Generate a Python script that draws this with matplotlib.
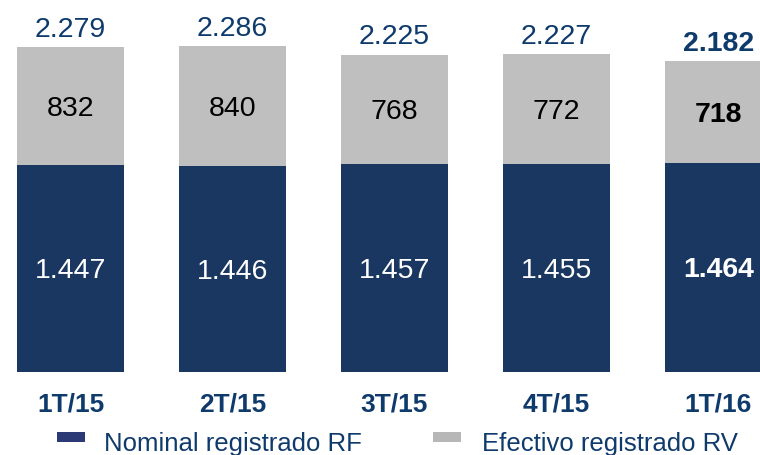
import matplotlib
matplotlib.use("Agg")
import matplotlib.pyplot as plt
import matplotlib.transforms as mtransforms
from matplotlib.patches import Rectangle

plt.rcParams["font.family"] = ["Liberation Sans", "DejaVu Sans"]

# Data
CATEGORIES = ["1T/15", "2T/15", "3T/15", "4T/15", "1T/16"]
RF_NOMINAL = [1447, 1446, 1457, 1455, 1464]
RV_EFECTIVO = [832, 840, 768, 772, 718]
TOTALS = [2279, 2286, 2225, 2227, 2182]
SERIES_NAMES = ["Nominal registrado RF", "Efectivo registrado RV"]


def fmt(v):
    # Spanish thousands separator
    return f"{v:,}".replace(",", ".")


NAVY = "#193760"
GRAY = "#BFBFBF"
TEXT_NAVY = "#0F3A6C"

W, H = 760, 455
fig = plt.figure(figsize=(W / 100, H / 100), dpi=100)
ax = fig.add_axes([0, 83.5 / H, 1, 371.5 / H])
ax.set_axis_off()

x = list(range(len(CATEGORIES)))
bw = 0.665
ax.bar(x, RF_NOMINAL, width=bw, color=NAVY, linewidth=0)
ax.bar(x, RV_EFECTIVO, width=bw, bottom=RF_NOMINAL, color=GRAY, linewidth=0)

ax.set_xlim(-70.5 / 162, (W - 70.5) / 162)
ax.set_ylim(0, 2609)

# half the digit height in data units, to put digits visually centred
half_digit = 70
last = len(CATEGORIES) - 1
for i in x:
    weight = "bold" if i == last else "normal"
    ax.text(i, RF_NOMINAL[i] / 2 - half_digit, fmt(RF_NOMINAL[i]), ha="center",
            va="baseline", fontsize=20.5, color="white", weight=weight)
    ax.text(i, RF_NOMINAL[i] + RV_EFECTIVO[i] / 2 - half_digit, fmt(RV_EFECTIVO[i]),
            ha="center", va="baseline", fontsize=20.5, color="black", weight=weight)
    ax.text(i, TOTALS[i] + 72, fmt(TOTALS[i]), ha="center", va="baseline",
            fontsize=20.5, color=TEXT_NAVY, weight=weight)

# Category labels below bars
trans = mtransforms.blended_transform_factory(ax.transData, fig.transFigure)
for i, cat in enumerate(CATEGORIES):
    ax.text(i, (H - 411) / H, cat, transform=trans, ha="center", va="baseline",
            fontsize=19, weight="bold", color=TEXT_NAVY, clip_on=False)

# Legend (cut off at the bottom as in the reference)
legend_items = [(57, 104, "#2B3A75"), (433, 482, "#B7B7B7")]
for (px, tx, col), name in zip(legend_items, SERIES_NAMES):
    fig.add_artist(Rectangle((px / W, (H - 442) / H), 28 / W, 10 / H,
                             transform=fig.transFigure, color=col, lw=0))
    fig.text(tx / W, (H - 450.5) / H, name, ha="left", va="baseline",
             fontsize=18.5, color=TEXT_NAVY)

fig.savefig("out.png", dpi=100)
